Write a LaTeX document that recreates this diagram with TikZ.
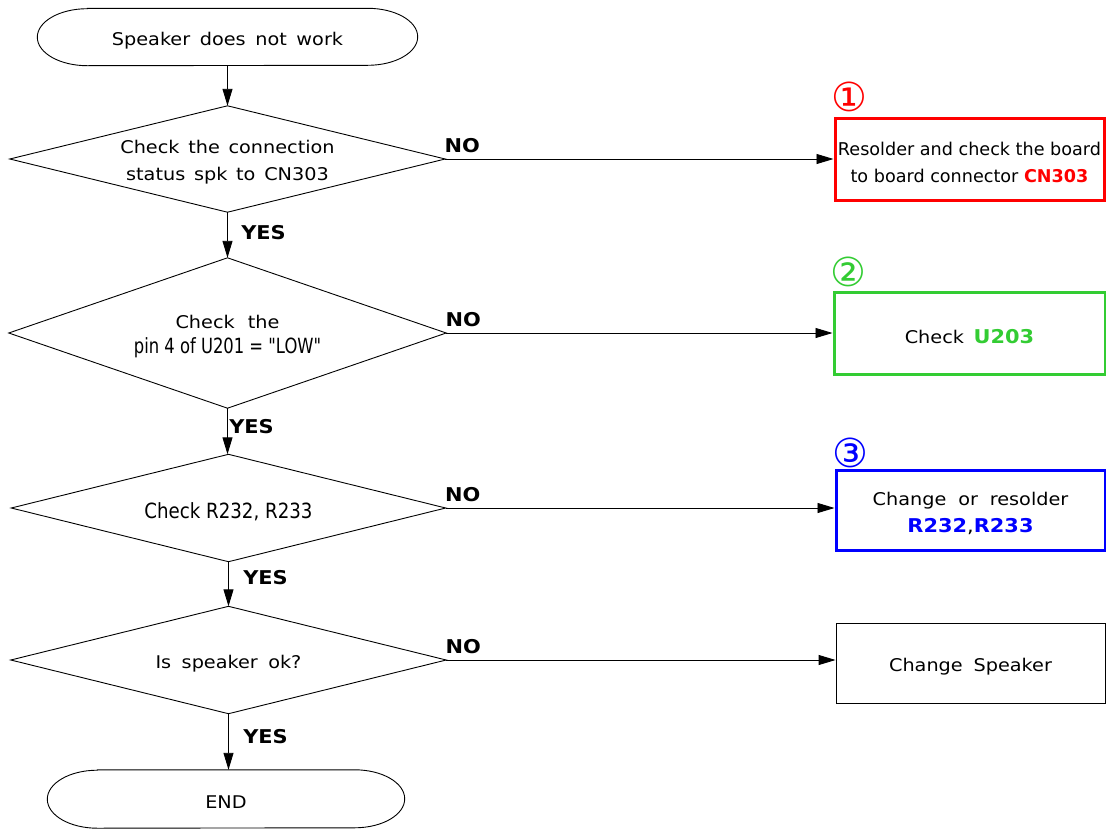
\documentclass[tikz,border=0pt]{standalone}
\usepackage{fontspec}
\usepackage{graphicx}
\setmainfont{DejaVu Sans}[FakeStretch=1.1]
\newfontfamily\plainfont{DejaVu Sans}
\usetikzlibrary{arrows.meta,calc}
\definecolor{cred}{RGB}{255,0,0}
\definecolor{cgreen}{RGB}{51,204,51}
\definecolor{cblue}{RGB}{0,0,255}
\begin{document}
\begin{tikzpicture}[x=1pt,y=-1pt,
  every node/.style={font=\fontsize{17.5}{27}\selectfont, text=black},
  shp/.style={rectangle, draw=none, inner sep=0pt},
  txt/.style={inner sep=0pt, align=center, yshift=-3.5pt},
  outl/.style={line width=0.9pt},
  arr/.style={-{Triangle[length=17pt,width=10pt]}, line width=0.9pt},
  lbl/.style={font=\fontsize{19}{20}\selectfont\bfseries},
  nolbl/.style={lbl, pos=0, anchor=south west, inner sep=2pt, yshift=4pt, xshift=-3pt},
  circ/.style={font=\plainfont\fontsize{40}{40}\selectfont, inner sep=0pt}
]
\useasboundingbox (0,0) rectangle (1106,830);

% ---- shapes (geometry) ----
\node[shp, minimum width=380, minimum height=57] (start) at (227.5,37) {};
\node[shp, minimum width=435, minimum height=106] (d1) at (227.5,159) {};
\node[shp, minimum width=437, minimum height=150] (d2) at (227.5,333) {};
\node[shp, minimum width=434, minimum height=107] (d3) at (228.5,508) {};
\node[shp, minimum width=435, minimum height=107] (d4) at (228.5,660) {};
\node[shp, minimum width=357, minimum height=58] (end) at (226,799) {};

\node[shp, draw=cred, line width=3pt, minimum width=269, minimum height=82] (b1) at (969.5,159) {};
\node[shp, draw=cgreen, line width=3pt, minimum width=271, minimum height=82] (b2) at (969.5,333) {};
\node[shp, draw=cblue, line width=3pt, minimum width=269, minimum height=80] (b3) at (970.5,510) {};
\node[shp, draw, line width=0.9pt, minimum width=269, minimum height=80] (b4) at (970.5,663) {};

% terminals outlines
\draw[outl] ([xshift=50pt]start.north west) -- ([xshift=-50pt]start.north east)
  arc[start angle=90, end angle=-90, x radius=50pt, y radius=28.5pt]
  -- ([xshift=50pt]start.south west)
  arc[start angle=270, end angle=90, x radius=50pt, y radius=28.5pt] -- cycle;
\draw[outl] ([xshift=50pt]end.north west) -- ([xshift=-50pt]end.north east)
  arc[start angle=90, end angle=-90, x radius=50pt, y radius=29pt]
  -- ([xshift=50pt]end.south west)
  arc[start angle=270, end angle=90, x radius=50pt, y radius=29pt] -- cycle;

% diamond outlines
\foreach \d in {d1,d2,d3,d4}
  \draw[outl] (\d.north) -- (\d.east) -- (\d.south) -- (\d.west) -- cycle;

% ---- texts ----
\node[txt] (startt) at (start.center) {Speaker\hspace{0.2em} does\hspace{0.2em} not\hspace{0.2em} work};
\node[txt] (d1t) at (d1.center) {Check\hspace{0.15em} the\hspace{0.15em} connection\\status\hspace{0.15em} spk\hspace{0.15em} to\hspace{0.15em} CN303};
\node[txt] (d2t) at (d2.center) {Check\hspace{0.4em} the\\[-2pt]{\plainfont\fontsize{18.2}{27}\selectfont\scalebox{0.9}[1.15]{pin 4 of U201 = \textquotedbl LOW\textquotedbl}}};
\node[txt] (d3t) at (d3.center) {\plainfont\fontsize{18.2}{27}\selectfont\scalebox{1}[1.15]{Check R232, R233}};
\node[txt] (d4t) at (d4.center) {Is\hspace{0.25em} speaker\hspace{0.25em} ok?};
\node[txt] (endt) at (end.center) {END};

\node[txt] (b1t) at (b1.center)
  {\plainfont\fontsize{17.6}{26}\selectfont Resolder and check the board\\\plainfont\fontsize{17.6}{26}\selectfont to board connector \textcolor{cred}{\bfseries CN303}};
\node[txt] (b2t) at (b2.center) {Check\hspace{0.2em} \textcolor{cgreen}{\fontsize{19}{26}\selectfont\bfseries U203}};
\node[txt] (b3t) at (b3.center)
  {Change\hspace{0.33em} or\hspace{0.33em} resolder\\{\fontsize{19}{26}\selectfont\textcolor{cblue}{\bfseries R232},\textcolor{cblue}{\bfseries R233}}};
\node[txt] (b4t) at (b4.center) {Change\hspace{0.27em} Speaker};

% circled numbers
\node[circ, text=cred] (n1) at ([xshift=16pt,yshift=20pt]b1.north west) {①};
\node[circ, text=cgreen] (n2) at ([xshift=16pt,yshift=19pt]b2.north west) {②};
\node[circ, text=cblue] (n3) at ([xshift=16pt,yshift=16pt]b3.north west) {③};

% ---- vertical arrows ----
\draw[arr] (start.south) -- (start.south |- d1.north);
\draw[arr] (d1.south) -- node[lbl, pos=0.45, anchor=west, xshift=10pt] {YES} (d1.south |- d2.north);
\draw[arr] (d2.south) -- node[lbl, pos=0.4, anchor=west, xshift=-2pt] {YES} (d2.south |- d3.north);
\draw[arr] (d3.south) -- node[lbl, pos=0.35, anchor=west, xshift=11pt] {YES} (d3.south |- d4.north);
\draw[arr] (d4.south) -- node[lbl, pos=0.4, anchor=west, xshift=11pt] {YES} (d4.south |- end.north);

% ---- horizontal arrows ----
\draw[arr] (d1.east) -- node[nolbl] {NO} (d1.east -| b1.west);
\draw[arr] (d2.east) -- node[nolbl] {NO} (d2.east -| b2.west);
\draw[arr] (d3.east) -- node[nolbl] {NO} (d3.east -| b3.west);
\draw[arr] (d4.east) -- node[nolbl] {NO} (d4.east -| b4.west);
\end{tikzpicture}
\end{document}
